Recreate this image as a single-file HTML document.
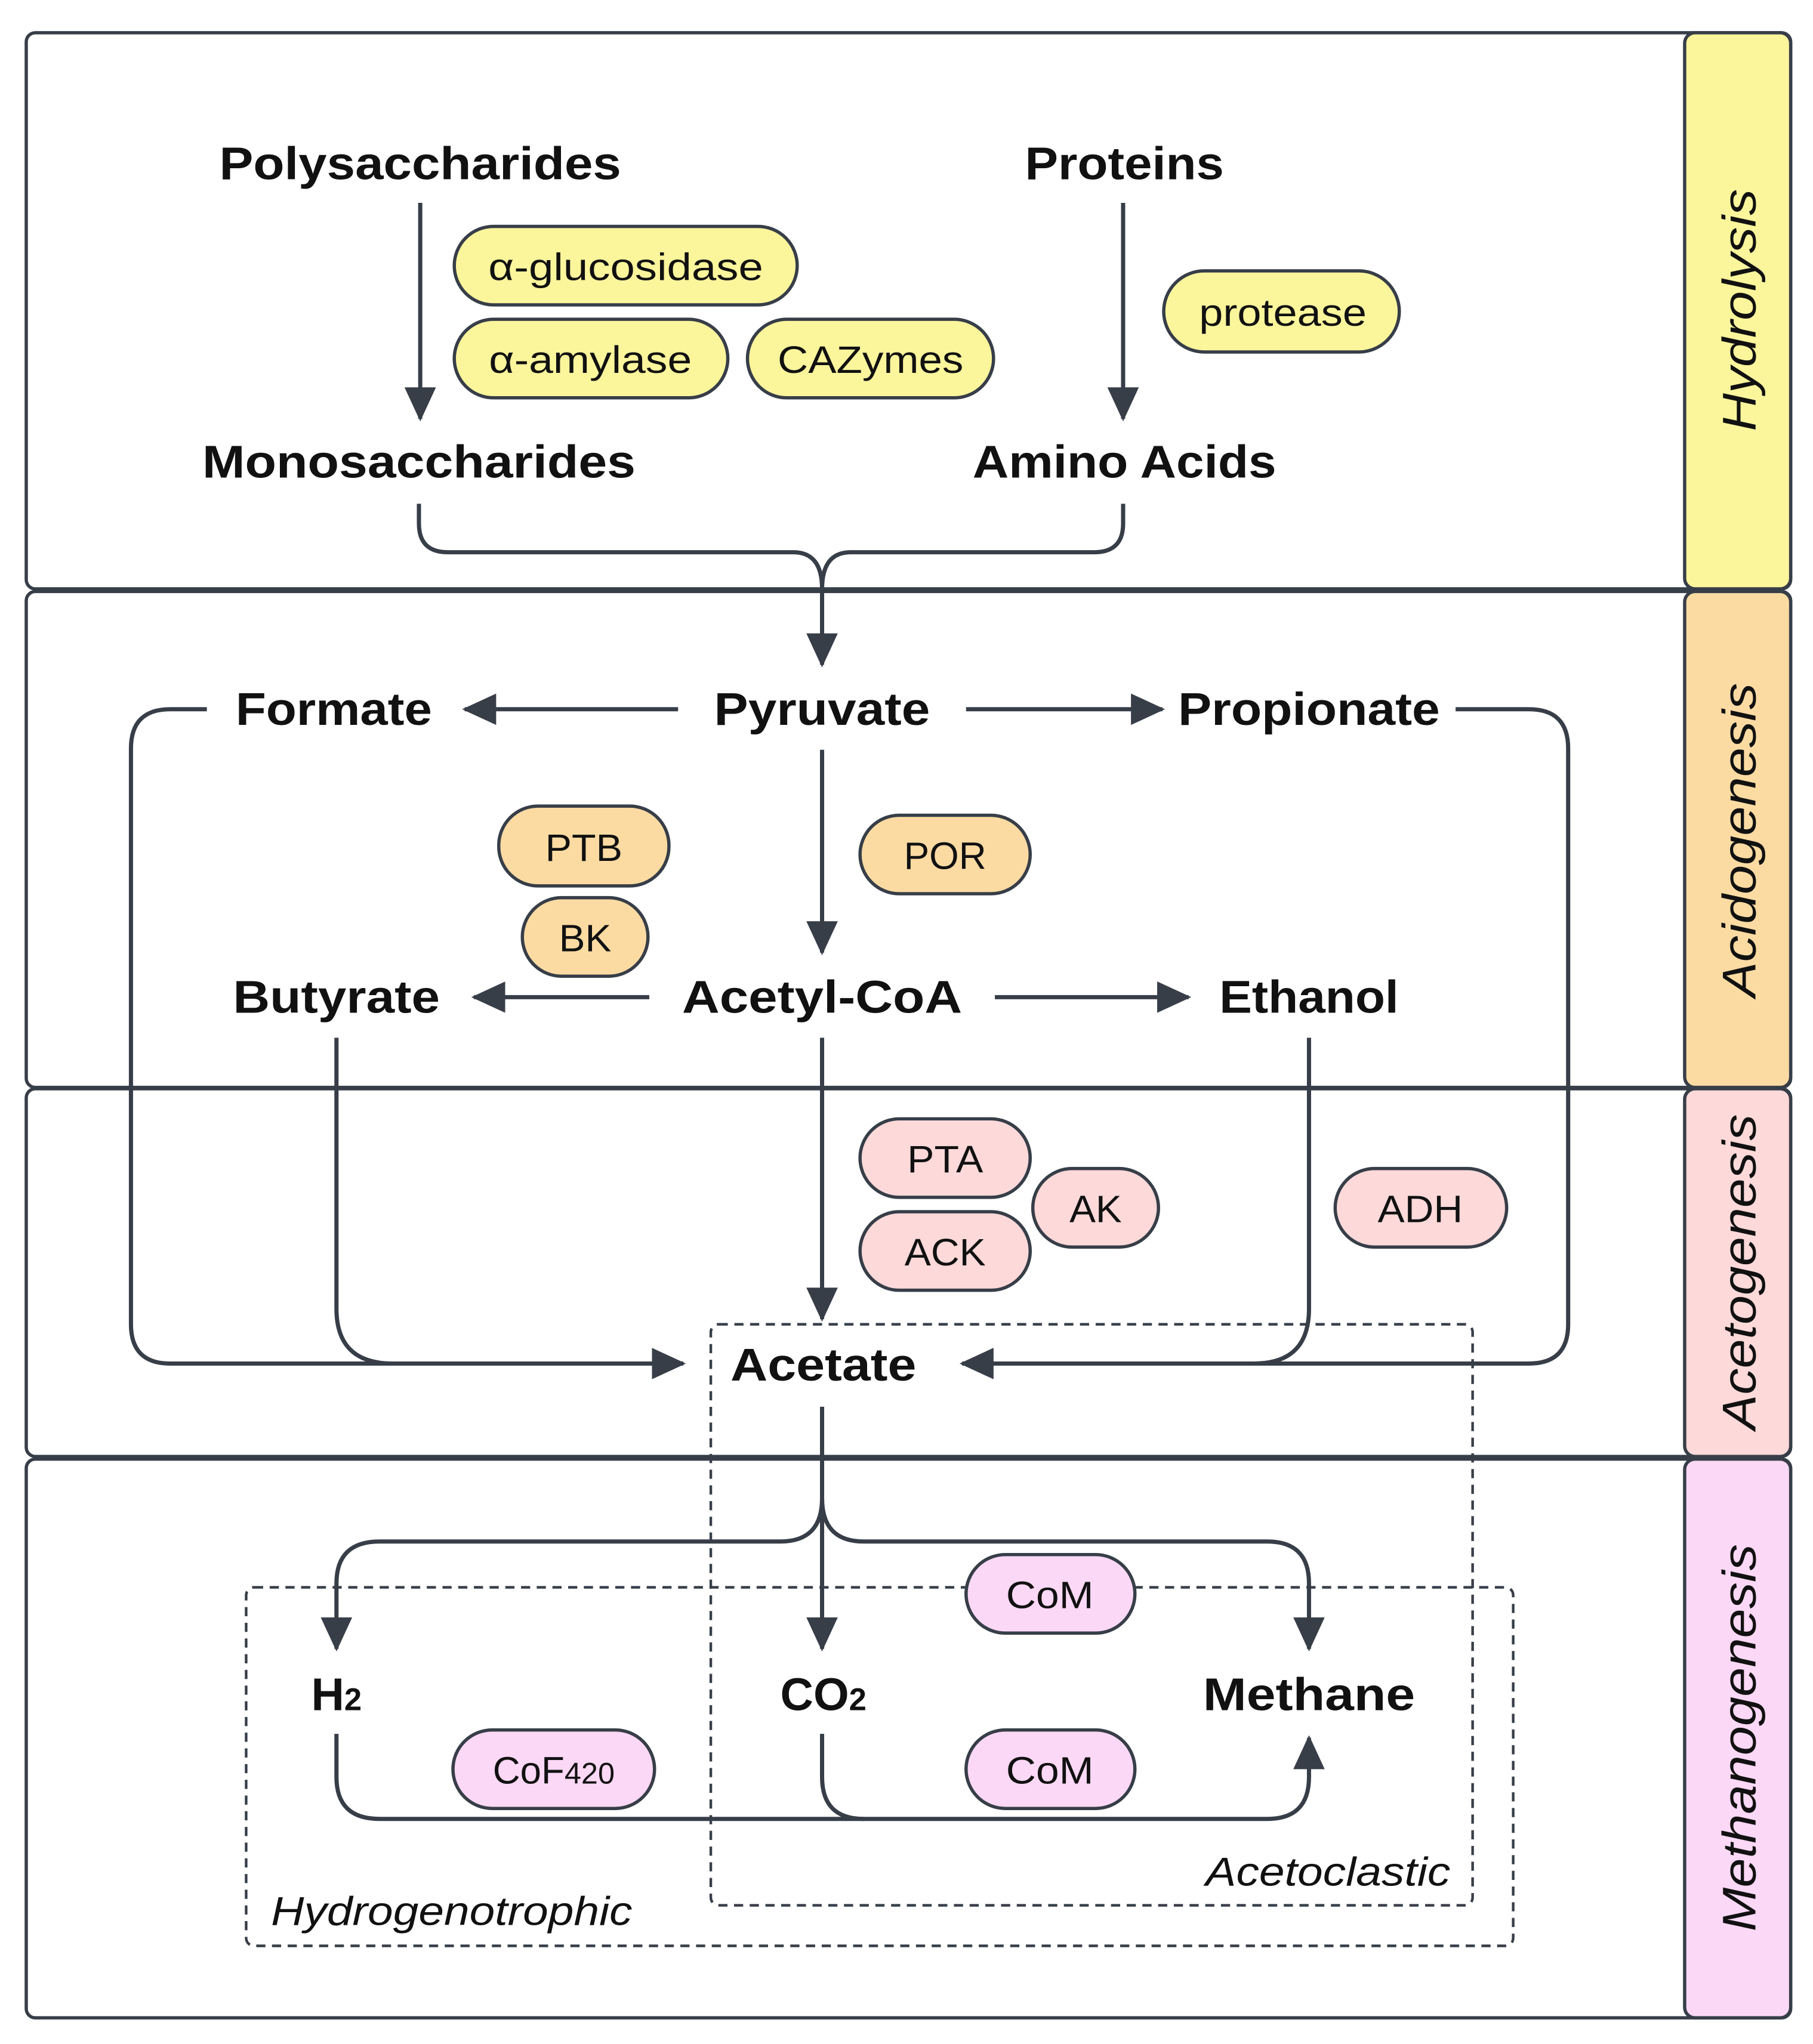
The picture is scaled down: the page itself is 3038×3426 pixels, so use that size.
<!DOCTYPE html>
<html><head><meta charset="utf-8"><style>html,body{margin:0;padding:0;background:#fff}svg{display:block}</style></head>
<body>
<svg width="3038" height="3426" viewBox="0 0 1385 1562" xmlns="http://www.w3.org/2000/svg">
<defs>
<marker id="a" markerUnits="userSpaceOnUse" markerWidth="26" markerHeight="26" refX="24" refY="12" orient="auto"><path d="M0,0 L26,12 L0,24 z" fill="#373e48"/></marker>
</defs>
<rect width="1385" height="1562" fill="#fff"/>
<g fill="none" stroke="#373e48" stroke-width="2.5">
<rect x="20" y="25" width="1348" height="425" rx="7"/>
<rect x="20" y="452" width="1348" height="379" rx="7"/>
<rect x="20" y="832" width="1348" height="281" rx="7"/>
<rect x="20" y="1115" width="1348" height="427" rx="7"/>
</g>
<g stroke="#373e48" stroke-width="2.5">
<rect x="1287" y="25" width="81" height="425" rx="8" fill="#fbf59c"/>
<rect x="1287" y="452" width="81" height="379" rx="8" fill="#fcdba3"/>
<rect x="1287" y="832" width="81" height="281" rx="8" fill="#fdd9d9"/>
<rect x="1287" y="1115" width="81" height="427" rx="8" fill="#fbd8f5"/>
</g>
<g font-family="Liberation Sans, sans-serif" font-style="italic" font-size="36" fill="#111" text-anchor="middle" lengthAdjust="spacingAndGlyphs">
<text transform="translate(1341,237) rotate(-90)" textLength="185" lengthAdjust="spacingAndGlyphs">Hydrolysis</text>
<text transform="translate(1341,642) rotate(-90)" textLength="240" lengthAdjust="spacingAndGlyphs">Acidogenesis</text>
<text transform="translate(1341,972) rotate(-90)" textLength="241" lengthAdjust="spacingAndGlyphs">Acetogenesis</text>
<text transform="translate(1341,1328) rotate(-90)" textLength="296" lengthAdjust="spacingAndGlyphs">Methanogenesis</text>
</g>
<g fill="none" stroke="#373e48" stroke-width="2" stroke-dasharray="7,5">
<rect x="543" y="1012" width="582" height="444" rx="6"/>
<rect x="188" y="1213" width="968" height="274" rx="6"/>
</g>
<g fill="none" stroke="#373e48" stroke-width="3.2">
<path d="M321,155 V320" marker-end="url(#a)"/>
<path d="M858,155 V320" marker-end="url(#a)"/>
<path d="M320,385 V400 Q320,422 342,422 H606 Q628,422 628,450"/>
<path d="M858,385 V400 Q858,422 836,422 H650 Q628,422 628,450"/>
<path d="M628,450 V508" marker-end="url(#a)"/>
<path d="M518,542 H355" marker-end="url(#a)"/>
<path d="M738,542 H888" marker-end="url(#a)"/>
<path d="M628,573 V728" marker-end="url(#a)"/>
<path d="M496,762 H362" marker-end="url(#a)"/>
<path d="M760,762 H908" marker-end="url(#a)"/>
<path d="M628,793 V1008" marker-end="url(#a)"/>
<path d="M158,542 H130 Q100,542 100,572 V1012 Q100,1042 130,1042 H522" marker-end="url(#a)"/>
<path d="M257,793 V1000 Q257,1042 300,1042"/>
<path d="M1112,542 H1168 Q1198,542 1198,572 V1012 Q1198,1042 1168,1042 H735" marker-end="url(#a)"/>
<path d="M1000,793 V1000 Q1000,1042 958,1042"/>
<path d="M628,1075 V1260" marker-end="url(#a)"/>
<path d="M628,1145 Q628,1178 596,1178 H290 Q257,1178 257,1210 V1260" marker-end="url(#a)"/>
<path d="M628,1145 Q628,1178 660,1178 H968 Q1000,1178 1000,1210 V1260" marker-end="url(#a)"/>
<path d="M257,1325 V1358 Q257,1390 290,1390 H968 Q1000,1390 1000,1358 V1328" marker-end="url(#a)"/>
<path d="M628,1325 V1358 Q628,1390 660,1390"/>
</g>
<g stroke="#373e48" stroke-width="2.5">
<rect x="347" y="173" width="262" height="60" rx="30" fill="#fbf59c"/>
<rect x="347" y="244" width="209" height="60" rx="30" fill="#fbf59c"/>
<rect x="571" y="244" width="188" height="60" rx="30" fill="#fbf59c"/>
<rect x="889" y="207" width="180" height="62" rx="31" fill="#fbf59c"/>
<rect x="381" y="616" width="130" height="61" rx="30" fill="#fcdba3"/>
<rect x="399" y="686" width="96" height="60" rx="30" fill="#fcdba3"/>
<rect x="657" y="623" width="130" height="60" rx="30" fill="#fcdba3"/>
<rect x="657" y="855" width="130" height="60" rx="30" fill="#fdd9d9"/>
<rect x="657" y="926" width="130" height="60" rx="30" fill="#fdd9d9"/>
<rect x="789" y="893" width="96" height="60" rx="30" fill="#fdd9d9"/>
<rect x="1020" y="893" width="131" height="60" rx="30" fill="#fdd9d9"/>
<rect x="738" y="1188" width="129" height="60" rx="30" fill="#fbd8f5"/>
<rect x="346" y="1322" width="154" height="60" rx="30" fill="#fbd8f5"/>
<rect x="738" y="1322" width="129" height="60" rx="30" fill="#fbd8f5"/>
</g>
<g font-family="Liberation Sans, sans-serif" font-size="29" fill="#111" text-anchor="middle">
<text x="478" y="214" textLength="210" lengthAdjust="spacingAndGlyphs">α-glucosidase</text>
<text x="451" y="285" textLength="155" lengthAdjust="spacingAndGlyphs">α-amylase</text>
<text x="665" y="285" textLength="142" lengthAdjust="spacingAndGlyphs">CAZymes</text>
<text x="980" y="249" textLength="128" lengthAdjust="spacingAndGlyphs">protease</text>
<text x="446" y="658" textLength="59" lengthAdjust="spacingAndGlyphs">PTB</text>
<text x="447" y="727" textLength="40" lengthAdjust="spacingAndGlyphs">BK</text>
<text x="722" y="664" textLength="63" lengthAdjust="spacingAndGlyphs">POR</text>
<text x="722" y="896" textLength="58" lengthAdjust="spacingAndGlyphs">PTA</text>
<text x="722" y="967" textLength="62" lengthAdjust="spacingAndGlyphs">ACK</text>
<text x="837" y="934" textLength="40" lengthAdjust="spacingAndGlyphs">AK</text>
<text x="1085" y="934" textLength="65" lengthAdjust="spacingAndGlyphs">ADH</text>
<text x="802" y="1229" textLength="67" lengthAdjust="spacingAndGlyphs">CoM</text>
<text x="423" y="1363">CoF<tspan font-size="23">420</tspan></text>
<text x="802" y="1363" textLength="67" lengthAdjust="spacingAndGlyphs">CoM</text>
</g>
<g font-family="Liberation Sans, sans-serif" font-size="35" font-weight="bold" fill="#111" text-anchor="middle">
<text x="321" y="137" textLength="307" lengthAdjust="spacingAndGlyphs">Polysaccharides</text>
<text x="859" y="137" textLength="152" lengthAdjust="spacingAndGlyphs">Proteins</text>
<text x="320" y="365" textLength="331" lengthAdjust="spacingAndGlyphs">Monosaccharides</text>
<text x="859" y="365" textLength="232" lengthAdjust="spacingAndGlyphs">Amino Acids</text>
<text x="628" y="554" textLength="165" lengthAdjust="spacingAndGlyphs">Pyruvate</text>
<text x="255" y="554" textLength="150" lengthAdjust="spacingAndGlyphs">Formate</text>
<text x="1000" y="554" textLength="200" lengthAdjust="spacingAndGlyphs">Propionate</text>
<text x="628" y="774" textLength="214" lengthAdjust="spacingAndGlyphs">Acetyl-CoA</text>
<text x="257" y="774" textLength="158" lengthAdjust="spacingAndGlyphs">Butyrate</text>
<text x="1000" y="774" textLength="137" lengthAdjust="spacingAndGlyphs">Ethanol</text>
<text x="629" y="1055" textLength="142" lengthAdjust="spacingAndGlyphs">Acetate</text>
<text x="257" y="1307">H<tspan font-size="24">2</tspan></text>
<text x="629" y="1307">CO<tspan font-size="24">2</tspan></text>
<text x="1000" y="1307" textLength="162" lengthAdjust="spacingAndGlyphs">Methane</text>
</g>
<g font-family="Liberation Sans, sans-serif" font-size="31" font-style="italic" fill="#111">
<text x="921" y="1441" textLength="187" lengthAdjust="spacingAndGlyphs">Acetoclastic</text>
<text x="207" y="1471" textLength="276" lengthAdjust="spacingAndGlyphs">Hydrogenotrophic</text>
</g>
</svg>
</body></html>
